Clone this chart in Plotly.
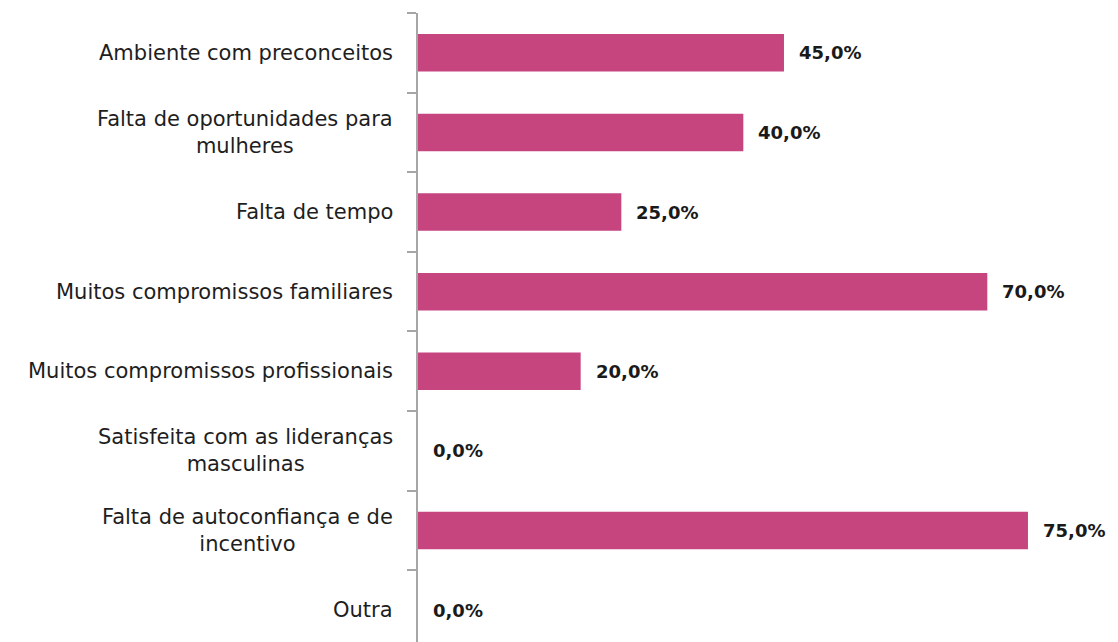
import plotly.graph_objects as go

categories = [
    "Ambiente com preconceitos",
    "Falta de oportunidades para<br>mulheres",
    "Falta de tempo",
    "Muitos compromissos familiares",
    "Muitos compromissos profissionais",
    "Satisfeita com as lideranças<br>masculinas",
    "Falta de autoconfiança e de<br>incentivo",
    "Outra",
]
values = [45.0, 40.0, 25.0, 70.0, 20.0, 0.0, 75.0, 0.0]
value_labels = [f"{v:.1f}%".replace(".", ",") for v in values]

BAR_COLOR = "#C6457F"
LABEL_FONT = "DejaVu Sans"

fig = go.Figure()
fig.add_trace(go.Bar(
    x=values,
    y=categories,
    orientation="h",
    width=0.47,
    marker=dict(color=BAR_COLOR, line=dict(width=0)),
    hoverinfo="skip",
))

annotations = []
for c, v, t in zip(categories, values, value_labels):
    annotations.append(dict(
        x=v, y=c, xref="x", yref="y", text=f"<b>{t}</b>",
        showarrow=False, xanchor="left", yanchor="middle", xshift=13,
        font=dict(family=LABEL_FONT, size=18, color="#1A1A1A"),
    ))
    annotations.append(dict(
        x=0, y=c, xref="paper", yref="y", text=c,
        showarrow=False, xanchor="right", yanchor="middle", xshift=-23,
        align="center",
        font=dict(family=LABEL_FONT, size=21, color="#1E1E1E"),
    ))

fig.update_layout(
    width=1118, height=642,
    margin=dict(l=410, r=8, t=5, b=8),
    paper_bgcolor="white", plot_bgcolor="white",
    showlegend=False,
    annotations=annotations,
    xaxis=dict(range=[0, 86.07], visible=False, showgrid=False, zeroline=False),
    yaxis=dict(
        type="category", categoryorder="array", categoryarray=categories,
        range=[7.40, -0.5],
        showticklabels=False, showgrid=False, zeroline=False,
        showline=True, linecolor="#A6A6A6", linewidth=2,
        ticks="outside", tickson="boundaries", ticklen=9,
        tickcolor="#A6A6A6", tickwidth=2,
    ),
)

fig.write_html("out.html")
